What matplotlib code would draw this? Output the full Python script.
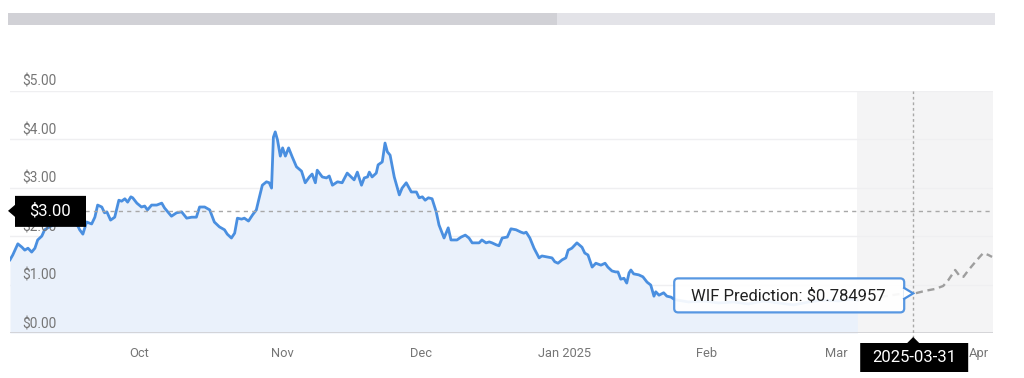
import numpy as np
import pandas as pd
import matplotlib
matplotlib.use("Agg")
import matplotlib.pyplot as plt
import matplotlib.dates as mdates
from matplotlib.patches import FancyBboxPatch, Polygon, Rectangle
from matplotlib.transforms import IdentityTransform

plt.rcParams['font.family'] = ['Roboto', 'DejaVu Sans']

start = pd.Timestamp('2024-10-01')

# price history, days counted from 2024-10-01
hist_day = [-28.1, -27.5, -26.4, -25.5, -24.9, -24.2, -23.4, -22.7, -22.1, -21.2, -20.6, -19.9,
            -18.4, -16.9, -15.6, -14.3, -13.4, -13.0, -12.3, -11.5, -10.4, -9.7, -9.1, -8.2,
            -7.6, -7.1, -6.3, -5.4, -4.5, -3.9, -3.2, -2.6, -1.9, -1.5, -0.6, 0.4, 1.1, 1.7,
            2.6, 3.7, 4.8, 5.4, 6.9, 8.0, 9.1, 10.2, 11.3, 12.3, 13.0, 14.1, 15.2, 16.2, 17.3,
            18.4, 19.0, 19.9, 20.6, 21.2, 22.1, 22.7, 23.6, 24.5, 25.3, 25.8, 26.6, 27.5, 28.1,
            28.6, 29.0, 29.4, 29.9, 30.5, 31.0, 31.6, 32.3, 33.1, 34.0, 35.1, 35.9, 36.8, 37.4,
            38.1, 38.5, 39.6, 40.5, 41.1, 41.8, 42.9, 43.9, 45.0, 46.5, 47.2, 48.1, 48.7, 49.4,
            49.8, 50.4, 51.3, 51.7, 52.6, 53.2, 53.7, 54.3, 55.2, 56.3, 56.9, 57.8, 58.9, 60.0,
            60.6, 61.3, 61.9, 62.6, 63.4, 64.3, 64.9, 66.0, 66.9, 67.5, 68.8, 69.7, 70.6, 71.4,
            72.1, 72.9, 73.6, 74.2, 75.1, 75.8, 76.4, 77.3, 77.9, 78.6, 79.7, 80.5, 81.6, 82.7,
            83.3, 83.8, 84.6, 85.5, 86.6, 87.2, 88.3, 89.4, 90.0, 90.7, 91.6, 92.4, 92.9, 93.7,
            94.8, 95.9, 96.5, 97.2, 98.1, 98.9, 100.0, 100.9, 101.5, 102.4, 103.2, 103.7, 104.3,
            105.0, 105.6, 106.1, 106.5, 107.1, 108.2, 109.1, 110.0, 110.8, 111.5, 111.9, 112.6,
            113.6, 114.3, 115.2, 115.8, 116.5, 119.0, 122.3, 125.5, 128.8, 132.0, 135.3, 138.5,
            141.8, 145.0, 148.3, 151.5, 154.1, 155.6]
hist_price = [1.51, 1.61, 1.84, 1.77, 1.71, 1.75, 1.67, 1.75, 1.92, 2.00, 2.13, 2.17,
              2.25, 2.29, 2.37, 2.29, 2.21, 2.13, 2.04, 2.29, 2.25, 2.39, 2.64, 2.60,
              2.48, 2.50, 2.33, 2.39, 2.74, 2.72, 2.77, 2.70, 2.81, 2.79, 2.68, 2.60, 2.62, 2.54,
              2.64, 2.64, 2.68, 2.58, 2.41, 2.48, 2.50, 2.37, 2.39, 2.39, 2.60, 2.60, 2.54, 2.29, 2.19,
              2.13, 2.04, 1.96, 2.06, 2.37, 2.35, 2.37, 2.31, 2.44, 2.54, 2.74, 3.05, 3.12, 3.10,
              2.99, 4.04, 4.15, 3.98, 3.65, 3.82, 3.65, 3.82, 3.63, 3.43, 3.34, 3.10, 3.22, 3.28,
              3.10, 3.36, 3.22, 3.20, 3.24, 3.05, 3.12, 3.10, 3.30, 3.16, 3.32, 3.05, 3.20, 3.22,
              3.32, 3.22, 3.30, 3.47, 3.53, 3.92, 3.74, 3.67, 3.22, 2.85, 2.99, 3.10, 2.91, 2.91,
              2.79, 2.81, 2.74, 2.79, 2.77, 2.50, 2.23, 1.96, 2.17, 1.92, 1.92, 1.98, 2.02, 1.96,
              1.86, 1.86, 1.86, 1.92, 1.86, 1.88, 1.86, 1.82, 1.80, 1.96, 1.98, 2.15, 2.13, 2.08,
              2.06, 2.08, 1.96, 1.75, 1.55, 1.59, 1.57, 1.55, 1.47, 1.44, 1.51, 1.55, 1.71, 1.75,
              1.86, 1.77, 1.65, 1.61, 1.36, 1.44, 1.40, 1.44, 1.36, 1.28, 1.26, 1.26, 1.11,
              1.13, 1.03, 1.24, 1.30, 1.22, 1.20, 1.16, 1.05, 0.99, 0.76, 0.85, 0.78,
              0.83, 0.76, 0.74, 0.70, 0.68, 0.64, 0.66, 0.62, 0.64, 0.60, 0.66, 0.62,
              0.58, 0.64, 0.68, 0.66, 0.70, 0.68]

# prediction (dashed)
pred_day = [155.6, 160.2, 164.5, 168.2, 170.3, 172.5, 174.2, 175.3, 176.8, 177.9, 178.6,
            179.7, 181.2, 182.3, 182.9, 184.0, 184.8]
pred_price = [0.68, 0.74, 0.80, 0.82, 0.87, 0.91, 0.97, 1.09, 1.30, 1.16, 1.16,
              1.30, 1.47, 1.59, 1.65, 1.61, 1.57]

month_ticks = ['2024-10-01', '2024-11-01', '2024-12-01', '2025-01-01', '2025-02-01',
               '2025-03-01', '2025-04-01']
month_labels = ['Oct', 'Nov', 'Dec', 'Jan 2025', 'Feb', 'Mar', 'Apr']
y_ticks = [0, 1, 2, 3, 4, 5]
y_labels = ['$0.00', '$1.00', '$2.00', '$3.00', '$4.00', '$5.00']

cross_day = 167.7
cross_price = 2.52
cross_date_label = '2025-03-31'
cross_price_label = '$3.00'
tooltip_text = 'WIF Prediction: $0.784957'

blue = '#4a8fe0'
hist_x = start + pd.to_timedelta(hist_day, unit='D')
pred_x = start + pd.to_timedelta(pred_day, unit='D')
cross_x = start + pd.to_timedelta(cross_day, unit='D')
x_left = start + pd.to_timedelta(-28.1, unit='D')
x_right = start + pd.to_timedelta(185.0, unit='D')

fig = plt.figure(figsize=(10.24, 3.78), dpi=100)
ax = fig.add_axes([10 / 1024, 45 / 378, 983 / 1024, 242.3 / 378])
ax.set_xlim(x_left, x_right)
ax.set_ylim(0, 5)

# prediction zone background
ax.axvspan(hist_x[-1], x_right, color='#f4f4f5', zorder=0.1, lw=0)

for v in y_ticks[1:]:
    ax.axhline(v, color='#efeff1', lw=1, zorder=0.5)
ax.axhline(0, color='#cfcfd3', lw=1.2, zorder=3)

ax.fill_between(hist_x, hist_price, 0, color='#eaf1fb', lw=0, zorder=1)
ax.plot(hist_x, hist_price, color=blue, lw=2.0, zorder=2, solid_joinstyle='round')
ax.plot(pred_x, pred_price, color='#9e9e9e', lw=1.7, ls=(0, (3, 2)), zorder=2)

# y labels sit above their gridline
for v, lab in zip(y_ticks, y_labels):
    ax.annotate(lab, xy=(0, v), xycoords=('axes fraction', 'data'), xytext=(12, 9),
                textcoords='offset pixels', ha='left', va='center', fontsize=9.8,
                color='#757575')

ax.set_yticks([])
ax.set_xticks(pd.to_datetime(month_ticks))
ax.set_xticklabels(month_labels)
ax.tick_params(axis='x', length=0, pad=10, labelsize=9.3, labelcolor='#757575')
for s in ax.spines.values():
    s.set_visible(False)

# crosshair
ax.axhline(cross_price, color='#a8a8a8', lw=1, ls=(0, (3, 3)), zorder=4)
ax.axvline(cross_x, ymin=-0.02, ymax=1, color='#a8a8a8', lw=1, ls=(0, (2, 2)),
           zorder=4, clip_on=False)

idt = IdentityTransform()
cx = mdates.date2num(cross_x)

# tooltip on prediction line
tip_price = np.interp(cross_day, pred_day, pred_price)
tx, ty = ax.transData.transform((cx, tip_price))
box = FancyBboxPatch((tx - 239, ty - 19), 230, 34, boxstyle='round,pad=0,rounding_size=4',
                     fc='white', ec=blue, lw=1.6, alpha=0.92, transform=idt, zorder=10)
fig.add_artist(box)
nub = Polygon([(tx - 10, ty - 6), (tx, ty), (tx - 10, ty + 6)], closed=False,
              fc='white', ec=blue, lw=1.6, transform=idt, zorder=11)
fig.add_artist(nub)
fig.text(tx - 222, ty - 2, tooltip_text, transform=idt, ha='left', va='center',
         fontsize=12, color='#212121', zorder=12)

# price label on the left
lx, ly = ax.transData.transform((mdates.date2num(x_left), cross_price))
lx -= 2
fig.add_artist(Polygon([(lx + 7, ly - 16), (lx + 78, ly - 16), (lx + 78, ly + 15),
                        (lx + 7, ly + 15), (lx + 7, ly + 6), (lx, ly), (lx + 7, ly - 6)],
                       fc='black', ec='none', transform=idt, zorder=10))
fig.text(lx + 42, ly, cross_price_label, transform=idt, ha='center', va='center',
         fontsize=12, color='white', zorder=12)

# date label at the bottom
dx, dy = ax.transData.transform((cx, 0))
dy -= 4
fig.add_artist(Polygon([(dx - 53, dy - 35), (dx + 55, dy - 35), (dx + 55, dy - 6),
                        (dx + 6, dy - 6), (dx, dy), (dx - 6, dy - 6), (dx - 53, dy - 6)],
                       fc='black', ec='none', transform=idt, zorder=10))
fig.text(dx + 1, dy - 21, cross_date_label, transform=idt, ha='center', va='center',
         fontsize=12, color='white', zorder=12)

# range bar at the top
fig.add_artist(Rectangle((8, 353), 549, 12, fc='#d1d1d6', ec='none', transform=idt))
fig.add_artist(Rectangle((557, 353), 438, 12, fc='#e3e3e8', ec='none', transform=idt))

fig.savefig('out.png', dpi=100)
